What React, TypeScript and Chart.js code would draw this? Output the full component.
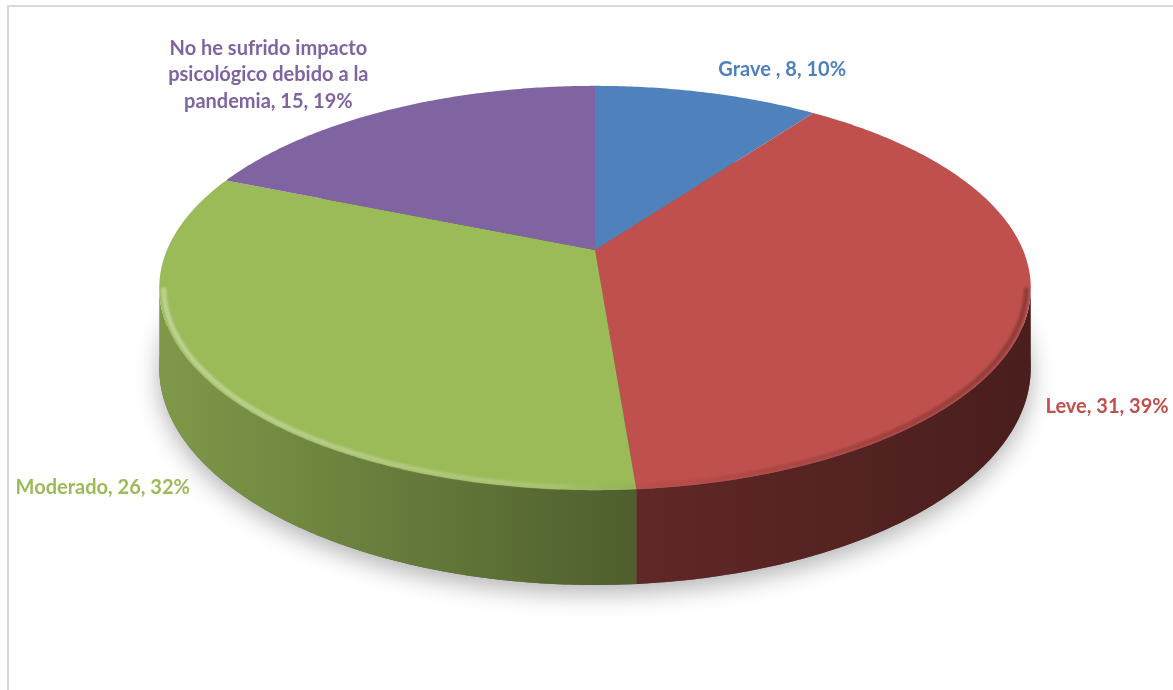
import React, { useEffect, useRef } from "react";
import { Chart, registerables } from "chart.js";

Chart.register(...registerables);

// ---- data ----
const categories = [
  "Grave ",
  "Leve",
  "Moderado",
  "No he sufrido impacto psicológico debido a la pandemia",
];
const values = [8, 31, 26, 15];
const percents = [10, 39, 32, 19];

// ---- styles ----
const colors = ["#4f81bd", "#c0504d", "#9bbb59", "#8064a2"];
const labelOffsets = [
  [75, -23],
  [78, 101],
  [-103, 109],
  [-121, -35],
];
const PERSPECTIVE = 0.188;
const RX_SCALE = 1.712;
const KY_SCALE = 0.78;
const DEPTH_SCALE = 0.308;
const LABEL_FONT = "bold 20px Lato";
const LABEL_LINE = 26.5;
const LABEL_WRAP = 250;

function rgb(hex: string): number[] {
  const h = hex.replace("#", "");
  return [0, 2, 4].map((i) => parseInt(h.slice(i, i + 2), 16));
}
function shade(hex: string, f: number): string {
  const [r, g, b] = rgb(hex);
  return `rgb(${Math.round(r * f)},${Math.round(g * f)},${Math.round(b * f)})`;
}

const pie3d = {
  id: "pie3d",
  beforeDatasetsDraw(chart: any) {
    const ctx: CanvasRenderingContext2D = chart.ctx;
    const meta = chart.getDatasetMeta(0);
    const arcs: any[] = meta.data;
    if (!arcs.length) return false;
    const cx = arcs[0].x;
    const cy = arcs[0].y;
    const R = arcs[0].outerRadius;
    const rx = R * RX_SCALE;
    const ky = R * KY_SCALE;
    const depth = R * DEPTH_SCALE;

    const proj = (t: number, bottom = false, s = 1) => {
      const u = s * Math.cos(t);
      const v = s * Math.sin(t);
      const d = 1 - PERSPECTIVE * v;
      return { x: cx + (rx * u) / d, y: cy + (ky * v + (bottom ? depth : 0)) / d };
    };
    const rimPath = (t1: number, t2: number, bottom: boolean, first: boolean) => {
      const n = Math.max(2, Math.ceil(Math.abs(t2 - t1) / 0.01));
      for (let i = 0; i <= n; i++) {
        const t = t1 + ((t2 - t1) * i) / n;
        const p = proj(t, bottom);
        if (i === 0 && first) ctx.moveTo(p.x, p.y);
        else ctx.lineTo(p.x, p.y);
      }
    };

    const tL = Math.asin(PERSPECTIVE);
    const tR = Math.PI - tL;

    ctx.save();
    // soft shadow under the pie
    ctx.save();
    ctx.beginPath();
    rimPath(0, Math.PI * 2, true, true);
    ctx.closePath();
    ctx.shadowColor = "rgba(0,0,0,0.3)";
    ctx.shadowBlur = 24;
    ctx.shadowOffsetY = 8;
    ctx.fillStyle = "#666";
    ctx.fill();
    ctx.restore();

    // side walls
    const xL = cx - rx * 1.02;
    const xR = cx + rx * 1.02;
    arcs.forEach((arc, i) => {
      for (const shift of [0, Math.PI * 2, -Math.PI * 2]) {
        const a = Math.max(arc.startAngle, tL + shift);
        const b = Math.min(arc.endAngle, tR + shift);
        if (b <= a) continue;
        const g = ctx.createLinearGradient(xL, 0, xR, 0);
        g.addColorStop(0, shade(colors[i], 0.82));
        g.addColorStop(0.55, shade(colors[i], 0.5));
        g.addColorStop(1, shade(colors[i], 0.38));
        ctx.beginPath();
        rimPath(a, b, false, true);
        rimPath(b, a, true, false);
        ctx.closePath();
        ctx.fillStyle = g;
        ctx.fill();
      }
    });

    // top faces
    arcs.forEach((arc, i) => {
      ctx.beginPath();
      ctx.moveTo(cx, cy);
      rimPath(arc.startAngle, arc.endAngle, false, false);
      ctx.closePath();
      ctx.fillStyle = colors[i];
      ctx.fill();
    });

    // bevel along the front rim
    ctx.save();
    ctx.beginPath();
    const n = 300;
    for (let i = 0; i <= n; i++) {
      const t = tL + ((tR - tL) * i) / n;
      const p = proj(t, false, 0.99);
      if (i === 0) ctx.moveTo(p.x, p.y);
      else ctx.lineTo(p.x, p.y);
    }
    const bg = ctx.createLinearGradient(xL, 0, xR, 0);
    bg.addColorStop(0, "rgba(255,255,255,0.35)");
    bg.addColorStop(0.45, "rgba(255,255,255,0.14)");
    bg.addColorStop(0.6, "rgba(0,0,0,0.05)");
    bg.addColorStop(1, "rgba(0,0,0,0.25)");
    ctx.strokeStyle = bg;
    ctx.lineWidth = 5;
    ctx.filter = "blur(1px)";
    ctx.stroke();
    ctx.restore();

    // labels
    ctx.font = LABEL_FONT;
    ctx.textAlign = "center";
    ctx.textBaseline = "middle";
    arcs.forEach((arc, i) => {
      const text = `${categories[i]}, ${values[i]}, ${percents[i]}%`;
      const words = text.split(" ");
      const lines: string[] = [];
      let cur = "";
      for (const w of words) {
        const test = cur ? cur + " " + w : w;
        if (cur && ctx.measureText(test).width > LABEL_WRAP) {
          lines.push(cur);
          cur = w;
        } else cur = test;
      }
      if (cur) lines.push(cur);
      const mid = (arc.startAngle + arc.endAngle) / 2;
      const p = proj(mid);
      const lx = p.x + labelOffsets[i][0];
      const ly = p.y + labelOffsets[i][1];
      ctx.fillStyle = colors[i];
      lines.forEach((ln, j) => {
        ctx.fillText(ln, lx, ly + (j - (lines.length - 1) / 2) * LABEL_LINE);
      });
    });
    ctx.restore();
    return false;
  },
};

export default function App() {
  const ref = useRef<HTMLCanvasElement>(null);
  useEffect(() => {
    const chart = new Chart(ref.current!, {
      type: "pie",
      data: {
        labels: categories,
        datasets: [{ data: values, backgroundColor: colors, borderWidth: 0 }],
      },
      options: {
        responsive: false,
        animation: false,
        layout: { padding: { left: 17, right: 0, top: 0, bottom: 190 } },
        plugins: { legend: { display: false }, tooltip: { enabled: false } },
        events: [],
      },
      plugins: [pie3d as any],
    });
    return () => chart.destroy();
  }, []);
  return (
    <div style={{ position: "absolute", left: 0, top: 0, width: 1173, height: 690, background: "#fff", overflow: "hidden" }}>
      <div
        style={{
          position: "absolute",
          left: 7,
          top: 5,
          width: 1173,
          height: 700,
          borderLeft: "2px solid #d9d9d9",
          borderTop: "2px solid #d9d9d9",
        }}
      />
      <canvas ref={ref} width={1173} height={690} style={{ position: "absolute", left: 0, top: 0 }} />
    </div>
  );
}
